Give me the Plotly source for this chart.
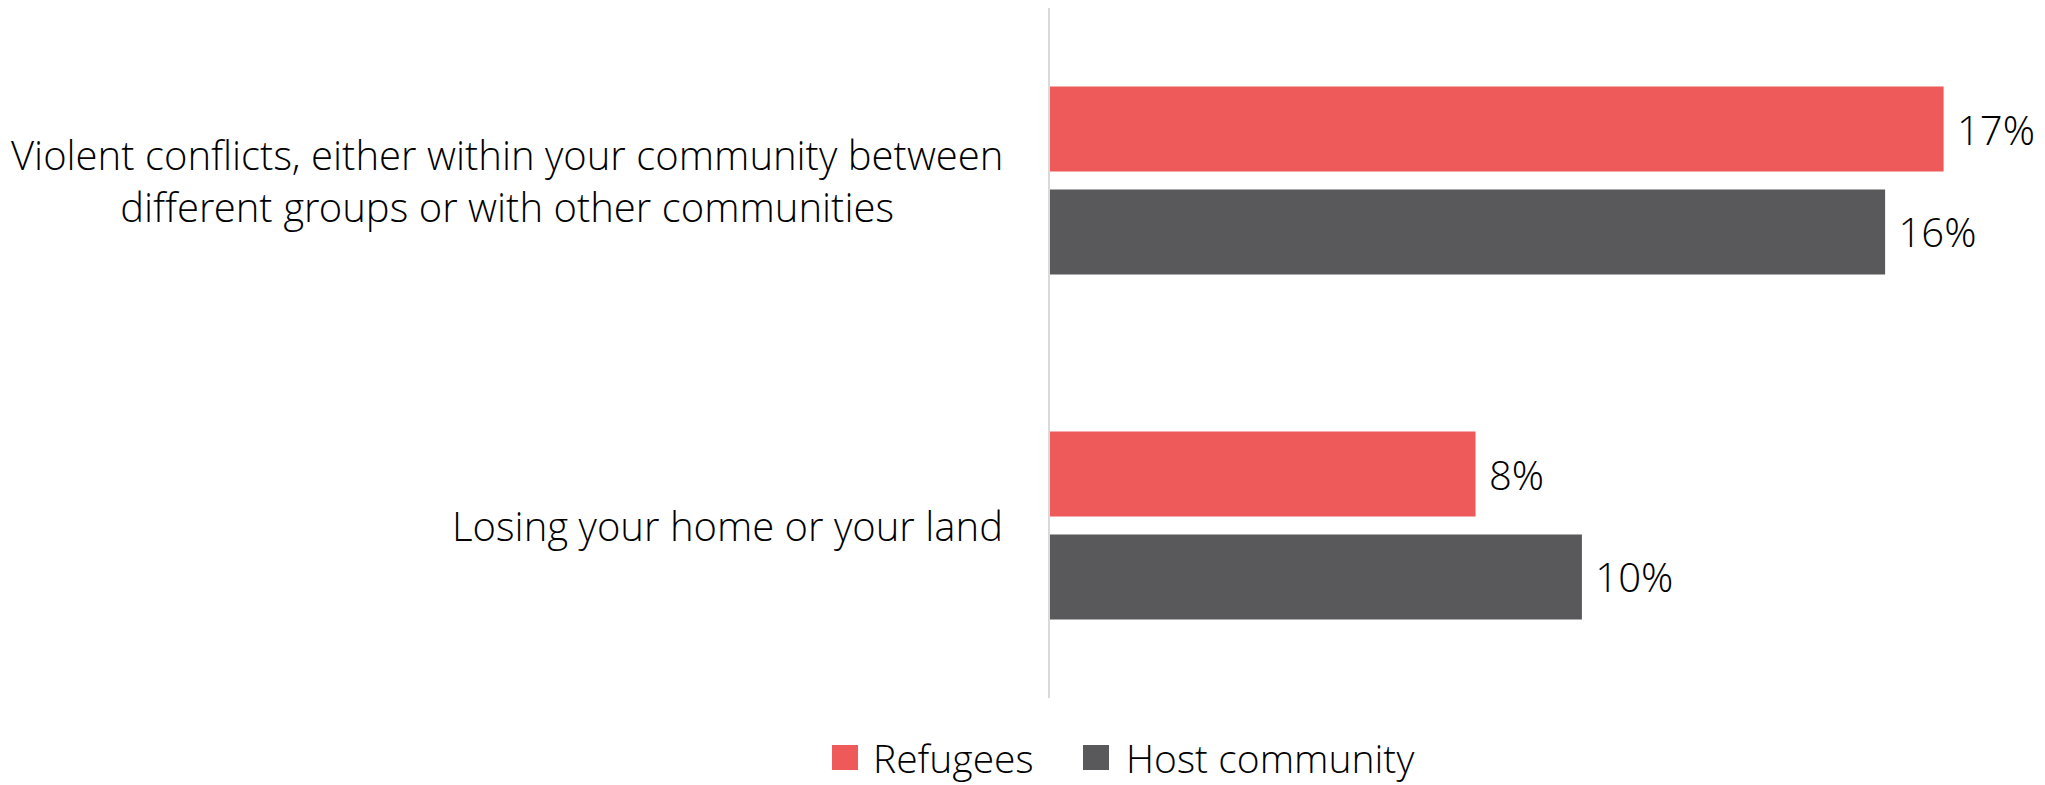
import plotly.graph_objects as go

categories = [
    "Violent conflicts, either within your community between<br>different groups or with other communities",
    "Losing your home or your land",
]
refugees = [16.8, 8.0]
host = [15.7, 10.0]
refugees_labels = ["17%", "8%"]
host_labels = ["16%", "10%"]
series_names = ["Refugees", "Host community"]
colors = ["#EE595A", "#59595B"]

FONT = "Open Sans Light, Open Sans"
FS = 40
OFF = 8  # page body margin
W, H = 2045 - OFF, 785 - OFF
ML, MR, MT, MB = 1050 - OFF, 45, 8 - OFF, 87
PW = W - ML - MR
PH = H - MT - MB

fig = go.Figure()
for name, vals, labs, col in [
    (series_names[0], refugees, refugees_labels, colors[0]),
    (series_names[1], host, host_labels, colors[1]),
]:
    fig.add_trace(go.Bar(
        y=categories, x=vals, orientation="h", name=name,
        marker=dict(color=col, line=dict(width=0)),
        text=[" " + t for t in labs], textposition="outside",
        textfont=dict(family=FONT, size=FS, color="#000000", weight=300),
        cliponaxis=False, showlegend=False,
    ))

annotations = []
for c in categories:
    annotations.append(dict(
        x=0, xref="paper", y=c, yref="y", text=c, showarrow=False,
        xanchor="right", yanchor="middle", align="center", xshift=-45,
        font=dict(family=FONT, size=FS, color="#000000", weight=300),
    ))

def px2x(px):
    return (px - OFF - ML) / PW

def px2y(py):
    return (MT + PH - (py - OFF)) / PH

shapes = []
leg_items = [(832, 871, series_names[0], colors[0]), (1083, 1124, series_names[1], colors[1])]
for sx, tx, name, col in leg_items:
    shapes.append(dict(type="rect", xref="paper", yref="paper",
                       x0=px2x(sx), x1=px2x(sx + 26), y0=px2y(770), y1=px2y(745),
                       fillcolor=col, line=dict(width=0)))
    annotations.append(dict(x=px2x(tx), xref="paper", y=px2y(757), yref="paper",
                            text=name, showarrow=False, xanchor="left", yanchor="middle",
                            font=dict(family=FONT, size=FS - 1, color="#000000", weight=300)))

fig.update_layout(
    width=W, height=H,
    margin=dict(l=ML, r=MR, t=MT, b=MB),
    paper_bgcolor="white", plot_bgcolor="white",
    barmode="group", bargap=0.403, bargroupgap=0.175,
    xaxis=dict(range=[0, 17.86], showgrid=False, zeroline=False, showline=False,
               showticklabels=False, ticks=""),
    yaxis=dict(autorange="reversed", showgrid=False, zeroline=False, showline=True,
               linecolor="#D9D9D9", linewidth=2, showticklabels=False, ticks=""),
    annotations=annotations, shapes=shapes,
    showlegend=False,
    font=dict(family=FONT, size=FS, color="#000000"),
)

fig.write_html("out.html")
